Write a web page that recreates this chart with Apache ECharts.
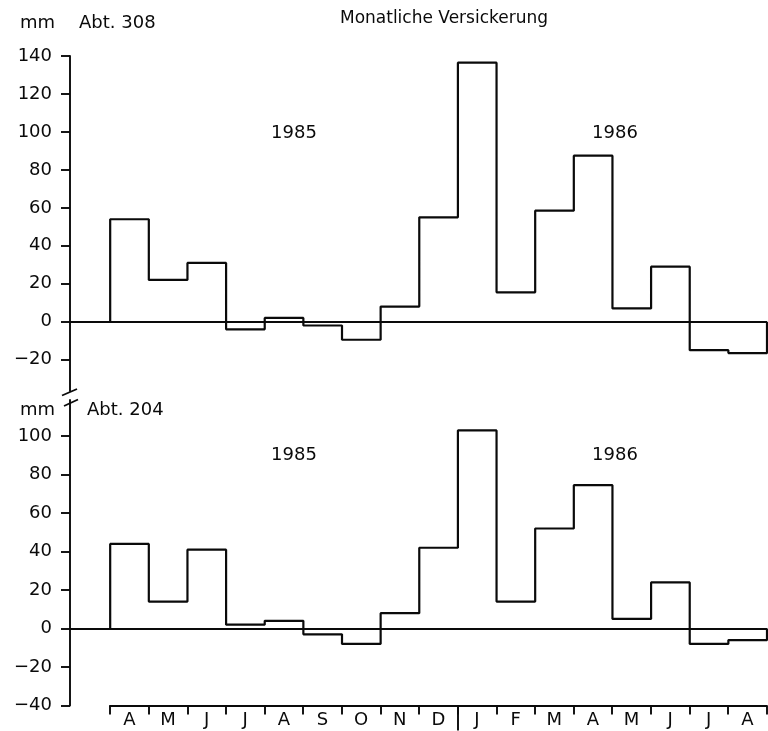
<!DOCTYPE html>
<html><head><meta charset="utf-8">
<script src="https://cdn.jsdelivr.net/npm/echarts@6/dist/echarts.min.js"></script>
<style>html,body{margin:0;padding:0;background:#fff}#c{width:768px;height:731px}</style>
</head><body><div id="c"></div>
<script>
const months = ['A','M','J','J','A','S','O','N','D','J','F','M','A','M','J','J','A'];
const abt308 = [54,22,31,-4,2,-2,-9.5,8,55,136.5,15.5,58.5,87.5,7,29,-15,-16.5];
const abt204 = [44,14,41,2,4,-3,-8,8,42,103,14,52,74.5,5,24,-8,-6];
const ticks308 = [-20,0,20,40,60,80,100,120,140];
const ticks204 = [-40,-20,0,20,40,60,80,100];
const yearBoundary = [9];

const FONT = 'DejaVu Sans';
const INK = '#0a0a0a';
const FS = 18;

function stepData(vals){
  const d = [[0,0]];
  vals.forEach((v,i)=>d.push([i,v]));
  d.push([vals.length, vals[vals.length-1]]);
  d.push([vals.length, 0]);
  return d;
}
function stepSeries(vals, idx){
  return {
    type:'line', xAxisIndex:idx, yAxisIndex:idx, step:'end',
    data: stepData(vals), showSymbol:false, symbol:'none', silent:true,
    lineStyle:{color:INK, width:2.2}, animation:false,
    markLine:{silent:true, symbol:'none', label:{show:false},
      lineStyle:{color:INK, width:1.8, type:'solid'}, data:[{yAxis:0}]}
  };
}
function yAx(idx, min, max, ticks){
  return {
    type:'value', gridIndex:idx, min:min, max:max,
    axisLine:{show:true, onZero:false, lineStyle:{color:INK, width:1.9}},
    axisTick:{show:true, length:9, customValues:ticks, lineStyle:{color:INK, width:1.9}},
    axisLabel:{show:true, customValues:ticks, margin:18, color:INK, fontSize:FS, fontFamily:FONT,
      formatter:v=> (v<0 ? '\u2212'+(-v) : ''+v)},
    splitLine:{show:false}
  };
}
const hiddenX = idx => ({type:'value', gridIndex:idx, min:-1.04, max:17, show:false});

const chart = echarts.init(document.getElementById('c'), null, {renderer:'canvas'});
const txt = (x,y,s,align,size)=>({type:'text', x:x, y:y, silent:true,
  style:{text:s, fill:INK, font:(size||FS)+'px "'+FONT+'"', align:align||'left', verticalAlign:'middle'}});

chart.setOption({
  backgroundColor:'#fff',
  animation:false,
  grid:[
    {left:70, right:1, top:56, height:335},
    {left:70, right:1, top:400, height:305.5},
    {left:110, right:1.3, top:704.5, height:1}
  ],
  xAxis:[
    hiddenX(0), hiddenX(1),
    {type:'category', gridIndex:2, data:months, boundaryGap:true, position:'bottom',
      axisLine:{show:true, lineStyle:{color:INK, width:1.9}},
      axisTick:{show:true, length:9, alignWithLabel:false, lineStyle:{color:INK, width:1.9}},
      axisLabel:{color:INK, fontSize:FS, fontFamily:FONT, margin:6, interval:0}},
    {type:'value', gridIndex:2, min:0, max:months.length, position:'bottom',
      axisLine:{show:false}, axisLabel:{show:false}, splitLine:{show:false},
      axisTick:{show:true, length:25, customValues:yearBoundary, lineStyle:{color:INK, width:1.9}}}
  ],
  yAxis:[
    yAx(0, -36.5, 140, ticks308),
    yAx(1, -40, 118.8, ticks204),
    {type:'value', gridIndex:2, show:false, min:0, max:1}
  ],
  series:[
    stepSeries(abt308, 0),
    stepSeries(abt204, 1),
    {type:'line', xAxisIndex:2, yAxisIndex:2, data:[], silent:true}
  ],
  graphic:[
    txt(20,23,'mm'), txt(79,23,'Abt. 308'),
    txt(444,19,'Monatliche Versickerung','center',17),
    txt(294,133,'1985','center'), txt(615,133,'1986','center'),
    txt(20,410,'mm'), txt(87,410,'Abt. 204'),
    txt(294,455,'1985','center'), txt(615,455,'1986','center'),
    {type:'line', silent:true, shape:{x1:62,y1:395.5,x2:77,y2:389}, style:{stroke:INK, lineWidth:1.9}},
    {type:'line', silent:true, shape:{x1:64,y1:406,x2:78,y2:399.5}, style:{stroke:INK, lineWidth:1.9}}
  ]
});
</script>
</body></html>
